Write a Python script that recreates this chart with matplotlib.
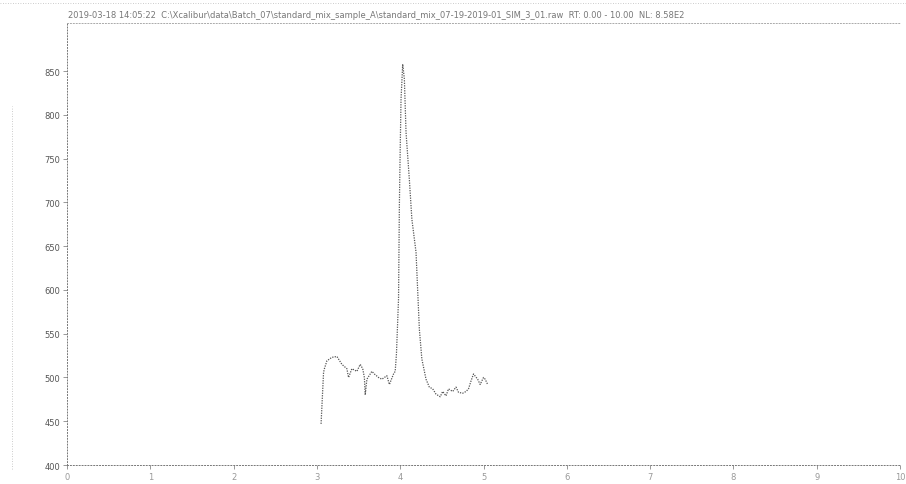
import matplotlib
matplotlib.use("Agg")
import matplotlib.pyplot as plt
from matplotlib.lines import Line2D

# Data
time_min = [3.05, 3.08, 3.09, 3.12, 3.18, 3.24, 3.30, 3.36, 3.38, 3.42, 3.48, 3.52,
            3.55, 3.57, 3.58, 3.60, 3.66, 3.69, 3.74, 3.78, 3.84, 3.87, 3.92, 3.94,
            3.955, 3.98, 3.99, 4.00, 4.01, 4.03, 4.05, 4.07, 4.11, 4.14, 4.19, 4.23,
            4.26, 4.31, 4.35, 4.39, 4.43, 4.48, 4.51, 4.55, 4.58, 4.63, 4.67, 4.70,
            4.75, 4.79, 4.82, 4.85, 4.88, 4.93, 4.96, 5.00, 5.02, 5.05]
signal = [447, 506, 510, 519, 523, 524, 515, 510, 500, 510, 507, 515,
          510, 500, 480, 498, 507, 504, 500, 498, 502, 492, 504, 507,
          527, 590, 696, 761, 818, 858, 841, 780, 726, 681, 643, 555,
          521, 498, 489, 487, 481, 478, 484, 479, 487, 484, 489, 483,
          482, 484, 487, 496, 504, 498, 492, 500, 498, 492]

y_ticks = [400, 450, 500, 550, 600, 650, 700, 750, 800, 850]
x_ticks = [0, 1, 2, 3, 4, 5, 6, 7, 8, 9, 10]
title_text = ("2019-03-18 14:05:22  C:\\Xcalibur\\data\\Batch_07\\standard_mix_sample_A\\"
              "standard_mix_07-19-2019-01_SIM_3_01.raw  RT: 0.00 - 10.00  NL: 8.58E2")

W, H = 906, 485
fig = plt.figure(figsize=(W / 100, H / 100), dpi=100)
ax = fig.add_axes([67 / W, 19 / H, 833 / W, 442 / H])

ax.plot(time_min, signal, color="#555555", lw=0.9, ls=(0, (1, 1)))

ax.set_xlim(0, 10)
ax.set_ylim(400, 905)
ax.set_xticks(x_ticks)
ax.set_yticks(y_ticks)
ax.set_xticklabels([str(v) for v in x_ticks], fontsize=6)
ax.set_yticklabels([str(v) for v in y_ticks], fontsize=6)
ax.tick_params(axis="both", length=3, width=0.6, colors="#888888", pad=2)
ax.tick_params(axis="y", labelcolor="#555555")
ax.tick_params(axis="x", labelcolor="#999999")

for side in ["left", "bottom", "top"]:
    ax.spines[side].set_linestyle((0, (1, 2)))
    ax.spines[side].set_color("#777777")
    ax.spines[side].set_linewidth(0.7)
ax.spines["right"].set_visible(False)
ax.spines["top"].set_color("#aaaaaa")

fig.text(68 / W, 1 - 15 / H, title_text, fontsize=6, color="#777777", va="center", ha="left")

# faint page frame lines
fig.add_artist(Line2D([0, 1], [1 - 4 / H, 1 - 4 / H], transform=fig.transFigure,
                      color="#bbbbbb", lw=0.6, ls=(0, (1, 2))))
fig.add_artist(Line2D([12 / W, 12 / W], [0.03, 0.78], transform=fig.transFigure,
                      color="#bbbbbb", lw=0.6, ls=(0, (1, 2))))

fig.savefig("out.png", dpi=100)
